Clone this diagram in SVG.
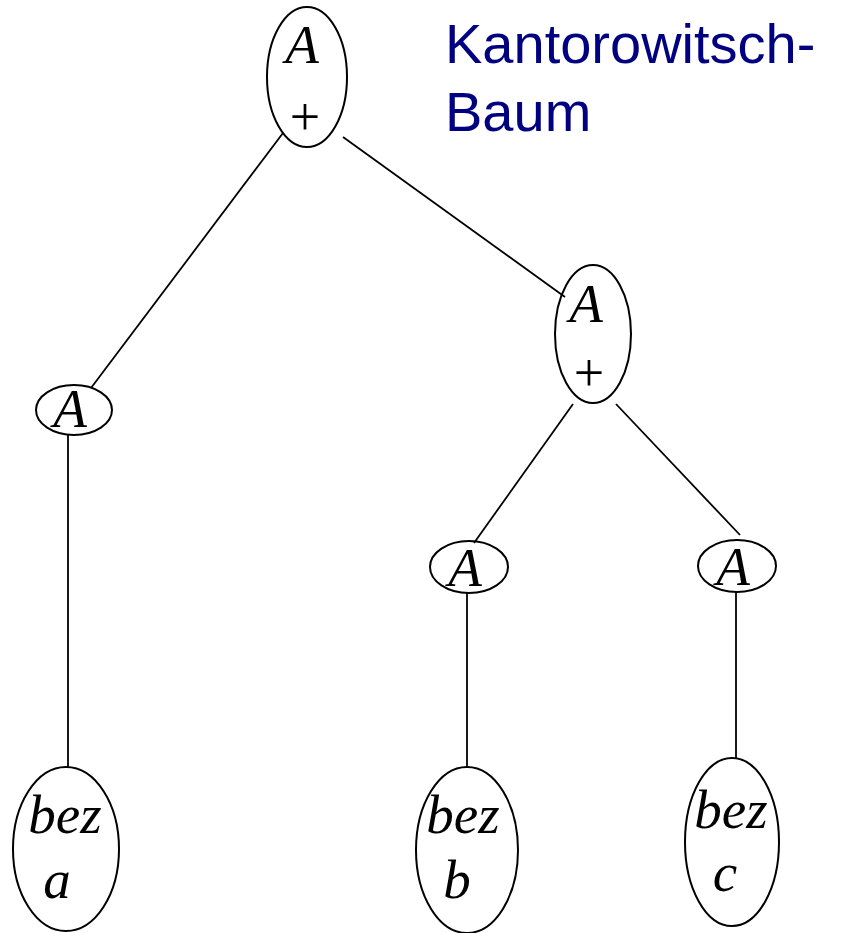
<svg xmlns="http://www.w3.org/2000/svg" width="843" height="933" viewBox="0 0 843 933">
  <style>
    .node { fill: none; stroke: #000; stroke-width: 2; }
    .edge { stroke: #000; stroke-width: 1.8; fill: none; }
    .sym { font-family: "Liberation Serif", "Times New Roman", serif; font-style: italic; font-size: 55px; fill: #000; text-anchor: middle; }
    .op { font-family: "Liberation Serif", "Times New Roman", serif; font-size: 54px; fill: #000; text-anchor: middle; }
    .title { font-family: "Liberation Sans", Arial, sans-serif; font-size: 56px; fill: #000080; }
  </style>
  <rect width="843" height="933" fill="#fff"/>

  <g id="title">
    <text class="title" x="445" y="63">Kantorowitsch-</text>
    <text class="title" x="445" y="131">Baum</text>
  </g>

  <g id="connectors">
    <line class="edge" x1="283" y1="133" x2="91" y2="388"/>
    <line class="edge" x1="343" y1="137" x2="565" y2="297"/>
    <line class="edge" x1="573" y1="404" x2="474" y2="543"/>
    <line class="edge" x1="616" y1="404" x2="740" y2="535"/>
    <line class="edge" x1="68" y1="435" x2="68" y2="768"/>
    <line class="edge" x1="467" y1="593" x2="467" y2="767"/>
    <line class="edge" x1="736" y1="592" x2="736" y2="759"/>
  </g>

  <g id="root">
    <ellipse class="node" cx="307" cy="77" rx="40" ry="70"/>
    <text class="sym" x="302" y="63">A</text>
    <text class="op" x="305" y="135">+</text>
  </g>

  <g id="left-a">
    <ellipse class="node" cx="74" cy="410" rx="38" ry="25"/>
    <text class="sym" x="70" y="427">A</text>
  </g>

  <g id="right-plus">
    <ellipse class="node" cx="593" cy="334" rx="38" ry="69"/>
    <text class="sym" x="586" y="322">A</text>
    <text class="op" x="589" y="391">+</text>
  </g>

  <g id="mid-a">
    <ellipse class="node" cx="469" cy="567" rx="39" ry="26"/>
    <text class="sym" x="465" y="586">A</text>
  </g>

  <g id="right-a">
    <ellipse class="node" cx="737" cy="566" rx="39" ry="26"/>
    <text class="sym" x="733" y="585">A</text>
  </g>

  <g id="leaf-a">
    <ellipse class="node" cx="66" cy="849" rx="53" ry="82"/>
    <text class="sym" x="65" y="833">bez</text>
    <text class="sym" x="57" y="898">a</text>
  </g>

  <g id="leaf-b">
    <ellipse class="node" cx="467" cy="850" rx="51" ry="83"/>
    <text class="sym" x="463" y="833">bez</text>
    <text class="sym" x="457" y="898">b</text>
  </g>

  <g id="leaf-c">
    <ellipse class="node" cx="732" cy="842" rx="47" ry="84"/>
    <text class="sym" x="731" y="828">bez</text>
    <text class="sym" x="725" y="891">c</text>
  </g>
</svg>
